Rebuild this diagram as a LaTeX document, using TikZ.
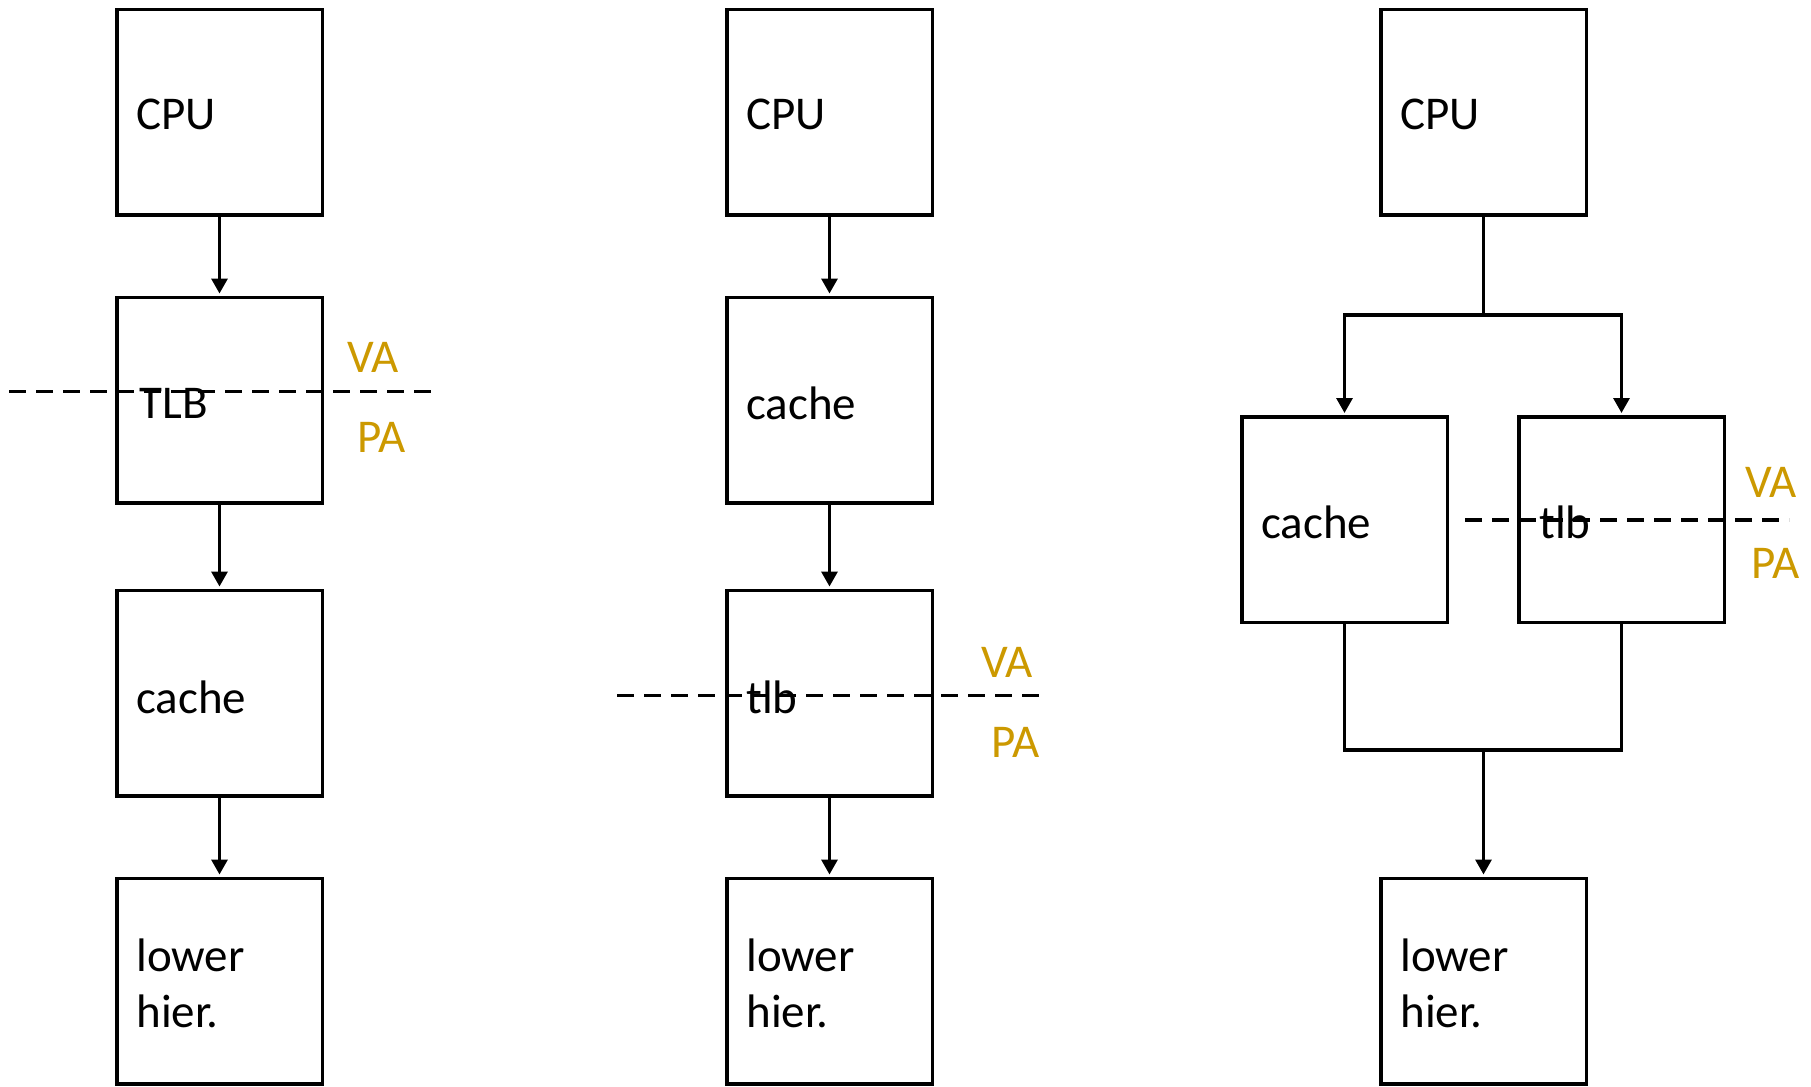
\documentclass[tikz,border=0pt]{standalone}
\usepackage{fontspec}
\setmainfont{Carlito}
\usetikzlibrary{arrows.meta,calc}
\definecolor{addrgold}{RGB}{204,153,0}
\begin{document}
\begin{tikzpicture}[x=0.5pt,y=-0.5pt,
  font=\fontsize{23.5pt}{28pt}\selectfont,
  unit/.style={draw,line width=1.75pt,minimum width=102.75pt,minimum height=102.75pt,inner sep=0pt},
  lbl/.style={anchor=base west,inner sep=0pt,align=left},
  addr/.style={text=addrgold,inner sep=0pt,anchor=base west},
  flow/.style={line width=1.6pt,-{Triangle[width=8pt,length=7.5pt]},shorten >=1pt},
  wire/.style={line width=1.6pt},
  split/.style={line width=1.75pt,dash pattern=on 8.5pt off 5pt}]
\useasboundingbox (0,0) rectangle (1811,1087);

% ---- physically addressed cache: CPU -> TLB -> cache -> lower
\node[unit] (cpuA) at (219.5,112) {};
\node[unit] (tlbA) at (219.5,400) {};
\node[unit] (cacheA) at (219.5,693) {};
\node[unit] (lowA) at (219.5,981) {};
\node[lbl] (cpuAt) at ([shift={(10.5pt,-8.5pt)}]cpuA.west) {CPU};
\node[lbl] (tlbAt) at ([shift={(12pt,-9pt)}]tlbA.west) {TLB};
\node[lbl] (cacheAt) at ([shift={(10.5pt,-10pt)}]cacheA.west) {cache};
\node[lbl] (lowAt) at ([shift={(10.5pt,-23pt)}]lowA.west) {lower\\hier.};
\draw[flow] (cpuA) -- (tlbA);
\draw[flow] (tlbA) -- (cacheA);
\draw[flow] (cacheA) -- (lowA);
\coordinate (sA1) at (9,391.5);
\coordinate (sA2) at (440,391.5);
\draw[split] (sA1) -- (sA2);
\node[addr] (vaA) at (347,372) {VA};
\node[addr] (paA) at (357,452) {PA};

% ---- virtually addressed cache: CPU -> cache -> tlb -> lower
\node[unit] (cpuB) at (829.5,112) {};
\node[unit] (cacheB) at (829.5,400) {};
\node[unit] (tlbB) at (829.5,693) {};
\node[unit] (lowB) at (829.5,981) {};
\node[lbl] (cpuBt) at ([shift={(10.5pt,-8.5pt)}]cpuB.west) {CPU};
\node[lbl] (cacheBt) at ([shift={(10.5pt,-9.5pt)}]cacheB.west) {cache};
\node[lbl] (tlbBt) at ([shift={(10.5pt,-10pt)}]tlbB.west) {tlb};
\node[lbl] (lowBt) at ([shift={(10.5pt,-23pt)}]lowB.west) {lower\\hier.};
\draw[flow] (cpuB) -- (cacheB);
\draw[flow] (cacheB) -- (tlbB);
\draw[flow] (tlbB) -- (lowB);
\coordinate (sB1) at (617,695.5);
\coordinate (sB2) at (1048,695.5);
\draw[split] (sB1) -- (sB2);
\node[addr] (vaB) at (981,677) {VA};
\node[addr] (paB) at (991,757) {PA};

% ---- parallel lookup: cache and tlb side by side
\node[unit] (cpuC) at (1483.5,112) {};
\node[unit] (cacheC) at (1344.5,519.5) {};
\node[unit] (tlbC) at (1621.5,519.5) {};
\node[unit] (lowC) at (1483.5,981) {};
\node[lbl] (cpuCt) at ([shift={(10.5pt,-8.5pt)}]cpuC.west) {CPU};
\node[lbl] (cacheCt) at ([shift={(10.5pt,-9.5pt)}]cacheC.west) {cache};
\node[lbl] (tlbCt) at ([shift={(11pt,-9.5pt)}]tlbC.west) {tlb};
\node[lbl] (lowCt) at ([shift={(10.5pt,-23pt)}]lowC.west) {lower\\hier.};
\coordinate (fork) at (1483.5,315);
\coordinate (join) at (1483.5,750);
\draw[wire] (cpuC.south) -- (fork);
\draw[flow] (fork) -| (cacheC.north);
\draw[flow] (fork) -| (tlbC.north);
\draw[wire] (cacheC.south) |- (join);
\draw[wire] (tlbC.south) |- (join);
\draw[flow] (join) -- (lowC.north);
\coordinate (sC1) at (1465,520);
\coordinate (sC2) at (1789,520);
\draw[split] (sC1) -- (sC2);
\node[addr] (vaC) at (1745,497) {VA};
\node[addr] (paC) at (1751,578) {PA};
\end{tikzpicture}
\end{document}
